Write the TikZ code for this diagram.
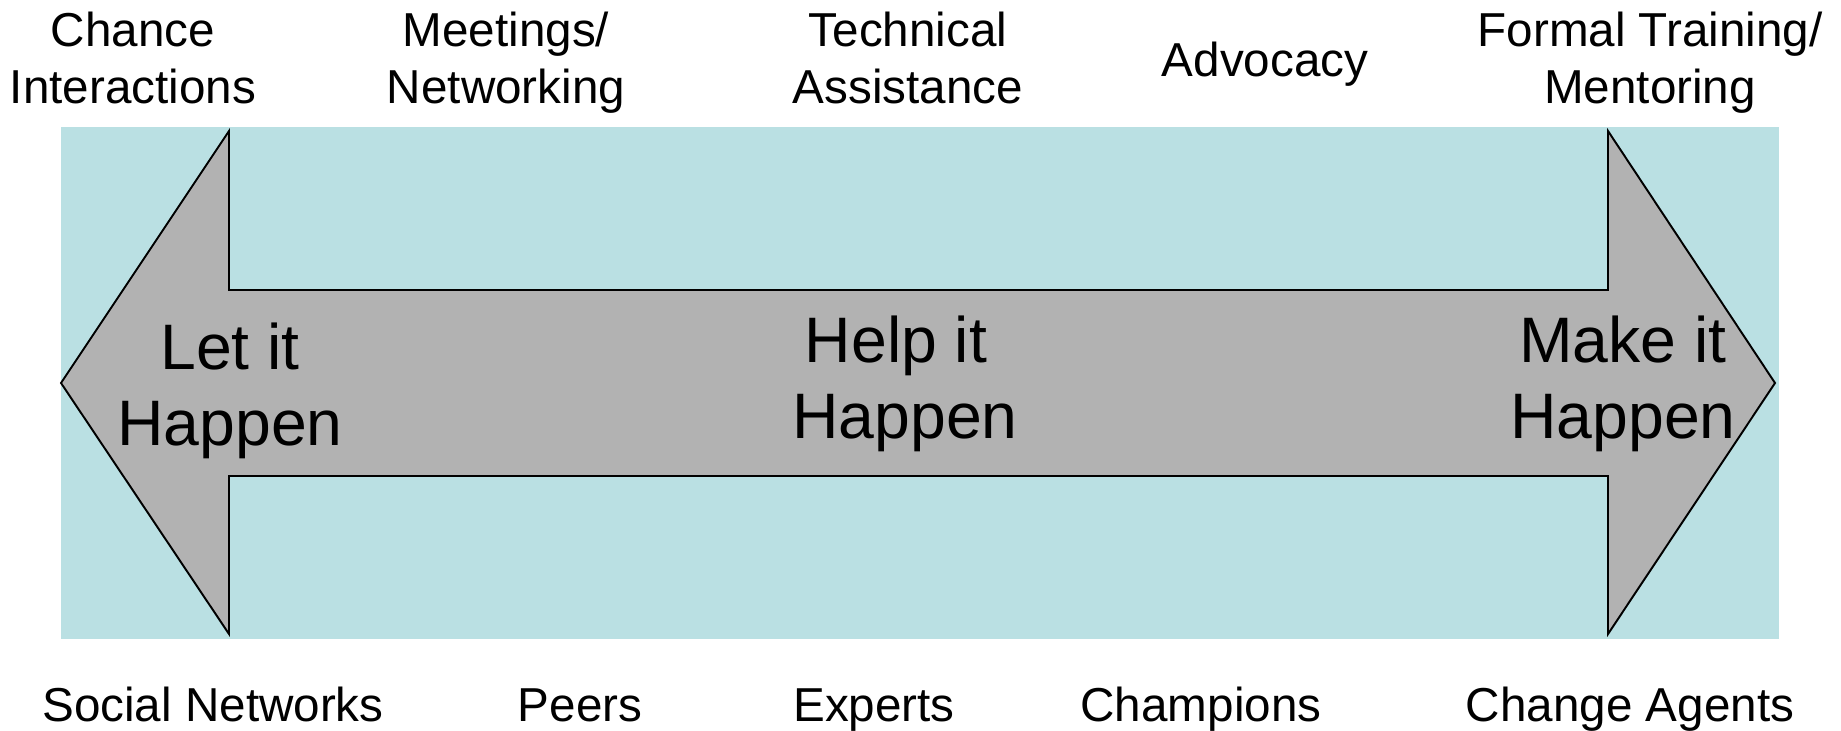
\documentclass[tikz,border=0pt]{standalone}
\usepackage{fontspec}
\setmainfont{Liberation Sans}
\definecolor{bgblue}{RGB}{186,224,227}
\definecolor{arrowgray}{RGB}{178,178,178}

\begin{document}
\begin{tikzpicture}[x=0.02cm, y=-0.02cm,
    lbl/.style={align=center, font=\fontsize{27.1}{32.4}\selectfont},
    big/.style={align=center, font=\fontsize{36.6}{43.3}\selectfont}]
			\useasboundingbox (0,0) rectangle (1841,730);

			% background and double arrow
			\fill[bgblue] (61,127) rectangle (1779,639);
			\filldraw[fill=arrowgray, draw=black, line width=1.1pt]
			  (61,383) -- (229,131) -- (229,290) -- (1608,290) -- (1608,131)
			  -- (1775,383) -- (1608,634) -- (1608,476) -- (229,476) -- (229,634) -- cycle;

			\node[big] (let) at (230,390.7) {Let it\\Happen};
			\node[big] (help) at (905,383.7) {Help it\hspace*{0.28em}\\Happen};
			\node[big] (make) at (1623,383.7) {Make it\\Happen};

			\node[lbl] (chance) at (133,58) {Chance\\Interactions};
			\node[lbl] (meet) at (506,63) {Meetings/\\Networking};
			\node[lbl] (tech) at (908,58) {Technical\\Assistance};
			\node[lbl, anchor=base] (advo) at (1265,76) {Advocacy};
			\node[lbl] (formal) at (1650,63) {Formal Training/\\Mentoring};

			\node[lbl, anchor=base] (social) at (213,721) {Social Networks};
			\node[lbl, anchor=base] (peers) at (580,721) {Peers};
			\node[lbl, anchor=base] (experts) at (874,721) {Experts};
			\node[lbl, anchor=base] (champ) at (1201,721) {Champions};
			\node[lbl, anchor=base] (agents) at (1630,721) {Change Agents};

		  \end{tikzpicture}
\end{document}
